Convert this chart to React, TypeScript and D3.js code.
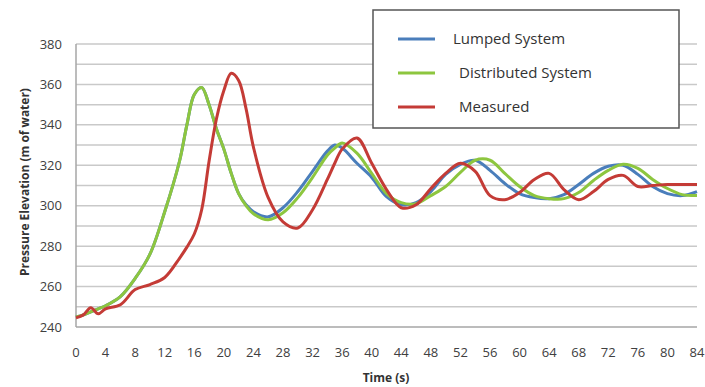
import React, { useEffect, useRef } from "react";
import * as d3 from "d3";

// Time points (s) shared by all series
const timePoints = [
  0, 1, 2, 3, 4, 6, 8, 10, 12, 14, 15, 16, 17, 18, 19, 20, 21, 22, 23, 24, 26, 28, 30, 32, 34, 35,
  36, 38, 40, 42, 44, 46, 48, 50, 52, 54, 56, 58, 60, 62, 64, 66, 68, 70, 72, 74, 76, 78, 80, 82, 84,
];

const lumpedValues = [
  245, 246, 247.5, 249, 250.5, 255, 264, 276, 297, 322, 340, 355, 358.5, 350, 338, 328, 316, 306,
  300.5, 297, 294.5, 299, 307, 317, 327, 330, 328.5, 321, 314, 304.5, 300.5, 301.5, 307, 315.5, 320.5,
  322.5, 317.5, 311, 306, 304, 303.5, 305.5, 310.5, 316, 319.5, 320, 315.5, 309.5, 306, 305, 307,
];

const distributedValues = [
  245, 246, 247.5, 249, 250.5, 255, 264, 276, 297, 322, 340, 355, 358.5, 350, 338, 328, 316, 306,
  300, 296, 293, 296.5, 304, 314, 325, 328.5, 331, 326, 316, 306, 301.5, 301, 305, 309.5, 316.5, 322.5,
  322.5, 316, 309.5, 305, 303.5, 303.5, 306.5, 312.5, 317.5, 320.5, 318.5, 313, 308.5, 305.5, 305,
];

const measuredValues = [
  244.5, 246, 249.5, 246.5, 249, 251, 258.5, 261, 264.5, 274, 279.5, 286, 298, 322, 343, 357, 365.5,
  362, 348, 329, 304, 292, 289, 298, 313, 321, 328, 333.5, 321, 308, 299, 300.5, 308.5, 316, 321, 317,
  305, 303, 306.5, 313, 316, 308, 303, 307, 313, 315, 309.5, 310, 310.5, 310.5, 310.5,
];

const xTicks = d3.range(0, 85, 4);
const yTicks = [240, 260, 280, 300, 320, 340, 360, 380];
const gridValues = d3.range(250, 381, 10);

const series = [
  { name: "Lumped System", values: lumpedValues, color: "#4a7ebb" },
  { name: "Distributed System", values: distributedValues, color: "#8dc63f" },
  { name: "Measured", values: measuredValues, color: "#c43b36" },
];

const App = () => {
  const svgRef = useRef(null);

  useEffect(() => {
    const width = 705;
    const height = 387;
    const margin = { top: 44, right: 8, bottom: 60, left: 76 };
    const font = "'Open Sans', 'DejaVu Sans', sans-serif";

    const svg = d3.select(svgRef.current);
    svg.selectAll("*").remove();

    const x = d3.scaleLinear().domain([0, 84]).range([margin.left, width - margin.right]);
    const y = d3.scaleLinear().domain([240, 380]).range([height - margin.bottom, margin.top]);

    // horizontal gridlines
    svg
      .append("g")
      .selectAll("line")
      .data(gridValues)
      .enter()
      .append("line")
      .attr("x1", x(0))
      .attr("x2", x(84))
      .attr("y1", (d) => y(d))
      .attr("y2", (d) => y(d))
      .attr("stroke", "#c9c9c9")
      .attr("stroke-width", 1.5);

    // axis lines
    svg
      .append("line")
      .attr("x1", x(0))
      .attr("x2", x(0))
      .attr("y1", y(380))
      .attr("y2", y(240))
      .attr("stroke", "#a6a6a6")
      .attr("stroke-width", 1.5);
    svg
      .append("line")
      .attr("x1", x(0))
      .attr("x2", x(84))
      .attr("y1", y(240))
      .attr("y2", y(240))
      .attr("stroke", "#a6a6a6")
      .attr("stroke-width", 1.5);

    // y tick labels
    svg
      .append("g")
      .selectAll("text")
      .data(yTicks)
      .enter()
      .append("text")
      .attr("x", x(0) - 14)
      .attr("y", (d) => y(d))
      .attr("dy", "0.35em")
      .attr("text-anchor", "end")
      .style("font-family", font)
      .style("font-size", "13px")
      .style("fill", "#404040")
      .text((d) => d);

    // x tick labels
    svg
      .append("g")
      .selectAll("text")
      .data(xTicks)
      .enter()
      .append("text")
      .attr("x", (d) => x(d))
      .attr("y", y(240) + 25)
      .attr("dy", "0.35em")
      .attr("text-anchor", "middle")
      .style("font-family", font)
      .style("font-size", "13px")
      .style("fill", "#404040")
      .text((d) => d);

    // axis titles
    svg
      .append("text")
      .attr("transform", `translate(29, 182) rotate(-90)`)
      .attr("text-anchor", "middle")
      .style("font-family", font)
      .style("font-size", "12px")
      .style("font-weight", "bold")
      .style("fill", "#333")
      .text("Pressure Elevation (m of water)");
    svg
      .append("text")
      .attr("x", 386)
      .attr("y", 382)
      .attr("text-anchor", "middle")
      .style("font-family", font)
      .style("font-size", "12px")
      .style("font-weight", "bold")
      .style("fill", "#333")
      .text("Time (s)");

    // series lines
    const line = d3
      .line<number>()
      .x((d, i) => x(timePoints[i]))
      .y((d) => y(d))
      .curve(d3.curveCatmullRom.alpha(0.5));

    series.forEach((s) => {
      svg
        .append("path")
        .datum(s.values)
        .attr("fill", "none")
        .attr("stroke", s.color)
        .attr("stroke-width", 3)
        .attr("stroke-linejoin", "round")
        .attr("d", line);
    });

    // legend
    const legend = svg.append("g");
    legend
      .append("rect")
      .attr("x", 373)
      .attr("y", 10)
      .attr("width", 306)
      .attr("height", 118)
      .attr("fill", "white")
      .attr("stroke", "#555")
      .attr("stroke-width", 1.5);

    const legendRows = [
      { y: 39, textX: 453 },
      { y: 73, textX: 459 },
      { y: 107, textX: 459 },
    ];

    series.forEach((s, i) => {
      legend
        .append("line")
        .attr("x1", 398)
        .attr("x2", 435)
        .attr("y1", legendRows[i].y)
        .attr("y2", legendRows[i].y)
        .attr("stroke", s.color)
        .attr("stroke-width", 3);
      legend
        .append("text")
        .attr("x", legendRows[i].textX)
        .attr("y", legendRows[i].y)
        .attr("dy", "0.35em")
        .style("font-family", font)
        .style("font-size", "15px")
        .style("fill", "#333")
        .text(s.name);
    });
  }, []);

  return (
    <svg
      ref={svgRef}
      width={705}
      height={387}
      style={{ position: "absolute", left: 0, top: 0, background: "white" }}
    />
  );
};

export default App;
